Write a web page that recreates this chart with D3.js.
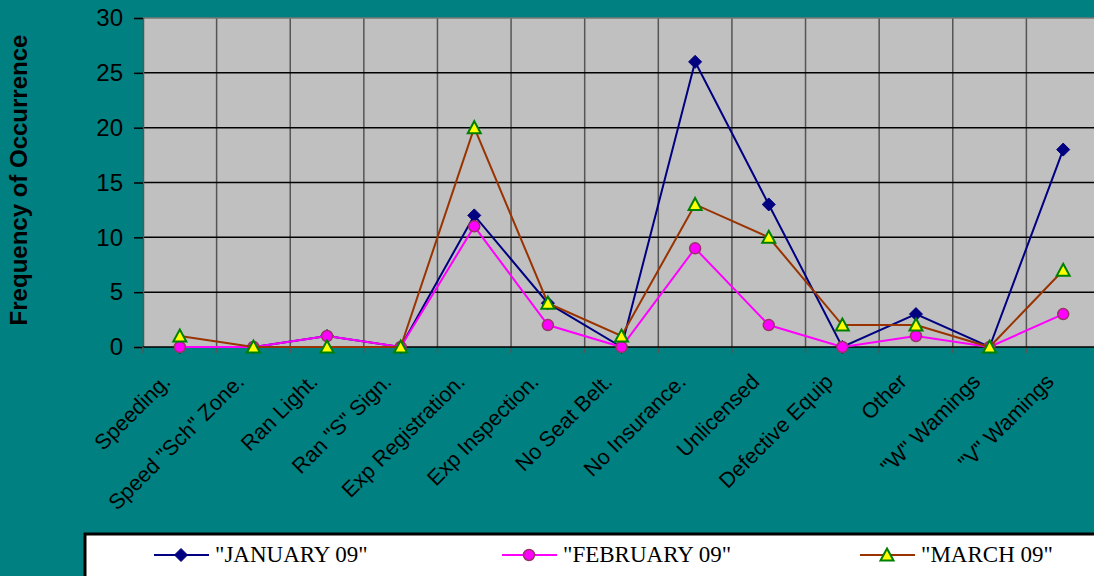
<!DOCTYPE html>
<html>
<head>
<meta charset="utf-8">
<script src="https://cdn.jsdelivr.net/npm/d3@7"></script>
<style>
  body { margin: 0; background: #008080; }
  svg { display: block; }
</style>
</head>
<body>
<div id="chart"></div>
<script>
// violation categories and monthly counts
const categories = ["Speeding.", "Speed \"Sch\" Zone.", "Ran Light.", "Ran \"S\" Sign.",
  "Exp Registration.", "Exp Inspection.", "No Seat Belt.", "No Insurance.", "Unlicensed",
  "Defective Equip", "Other", "\"W\" Wamings", "\"V\" Wamings"]
const january = [0, 0, 1, 0, 12, 4, 0, 26, 13, 0, 3, 0, 18]
const february = [0, 0, 1, 0, 11, 2, 0, 9, 2, 0, 1, 0, 3]
const march = [1, 0, 0, 0, 20, 4, 1, 13, 10, 2, 2, 0, 7]
const yTicks = [0, 5, 10, 15, 20, 25, 30]

const series = [
  {name: "\"JANUARY 09\"", values: january, color: "#000080", marker: "diamond"},
  {name: "\"FEBRUARY 09\"", values: february, color: "#ff00ff", marker: "circle"},
  {name: "\"MARCH 09\"", values: march, color: "#993300", marker: "triangle"}
]

const width = 1094, height = 576
const plot = {left: 143, right: 1100, top: 18, bottom: 347}

const svg = d3.select("#chart").append("svg")
  .attr("width", width)
  .attr("height", height)

svg.append("rect")
  .attr("width", width)
  .attr("height", height)
  .attr("fill", "#008080")

const x = d3.scaleBand()
  .domain(categories)
  .range([plot.left, plot.right])
  .paddingInner(0)
  .paddingOuter(0)

const y = d3.scaleLinear()
  .domain([0, 30])
  .range([plot.bottom, plot.top])

const cx = d => x(d) + x.bandwidth() / 2

// plot area
svg.append("rect")
  .attr("x", plot.left)
  .attr("y", plot.top)
  .attr("width", plot.right - plot.left)
  .attr("height", plot.bottom - plot.top)
  .attr("fill", "#c0c0c0")

// vertical grid lines at category boundaries
svg.append("g")
  .selectAll("line")
  .data(categories.slice(1))
  .enter().append("line")
  .attr("x1", d => x(d))
  .attr("x2", d => x(d))
  .attr("y1", plot.top)
  .attr("y2", plot.bottom + 6)
  .attr("stroke", "#555")
  .attr("stroke-width", 1.5)

// horizontal grid lines
svg.append("g")
  .selectAll("line")
  .data(yTicks.slice(1, -1))
  .enter().append("line")
  .attr("x1", plot.left)
  .attr("x2", plot.right)
  .attr("y1", d => y(d))
  .attr("y2", d => y(d))
  .attr("stroke", "#000")
  .attr("stroke-width", 1.5)

// top border
svg.append("line")
  .attr("x1", plot.left).attr("x2", plot.right)
  .attr("y1", plot.top).attr("y2", plot.top)
  .attr("stroke", "#777").attr("stroke-width", 1.5)

// y axis
const yAxis = d3.axisLeft(y)
  .tickValues(yTicks)
  .tickSize(9)
  .tickPadding(11)

const yg = svg.append("g")
  .attr("transform", "translate(" + plot.left + ",0)")
  .call(yAxis)
yg.select(".domain").attr("stroke", "#555").attr("stroke-width", 1.5)
yg.selectAll(".tick line").attr("stroke", "#000").attr("stroke-width", 1.5)
yg.selectAll(".tick text")
  .style("font-family", "Arial, 'Liberation Sans', sans-serif")
  .style("font-size", "24px")
  .attr("fill", "#000")

// x axis line and ticks
svg.append("line")
  .attr("x1", plot.left).attr("x2", plot.right)
  .attr("y1", plot.bottom).attr("y2", plot.bottom)
  .attr("stroke", "#000").attr("stroke-width", 1.5)

svg.append("line")
  .attr("x1", plot.left).attr("x2", plot.left)
  .attr("y1", plot.bottom).attr("y2", plot.bottom + 6)
  .attr("stroke", "#555").attr("stroke-width", 1.5)

// category labels
svg.append("g")
  .selectAll("text")
  .data(categories)
  .enter().append("text")
  .attr("transform", d => "translate(" + (cx(d) - 8) + "," + 383 + ") rotate(-45)")
  .attr("text-anchor", "end")
  .style("font-family", "Arial, 'Liberation Sans', sans-serif")
  .style("font-size", "21.5px")
  .attr("fill", "#000")
  .text(d => d)

// y axis title
svg.append("text")
  .attr("transform", "translate(27,180) rotate(-90)")
  .attr("text-anchor", "middle")
  .style("font-family", "Arial, 'Liberation Sans', sans-serif")
  .style("font-size", "24px")
  .style("font-weight", "bold")
  .attr("fill", "#000")
  .text("Frequency of Occurrence")

function drawMarker(g, type, color) {
  if (type === "diamond") {
    g.append("path")
      .attr("d", "M0,-6.5L6.5,0L0,6.5L-6.5,0Z")
      .attr("fill", color)
      .attr("stroke", color)
  } else if (type === "circle") {
    g.append("circle")
      .attr("r", 5.5)
      .attr("fill", "#ff00ff")
      .attr("stroke", "#993366")
      .attr("stroke-width", 1.5)
  } else {
    g.append("path")
      .attr("d", "M0,-6.5L6.5,5.5L-6.5,5.5Z")
      .attr("fill", "#ffff00")
      .attr("stroke", "#008000")
      .attr("stroke-width", 2)
  }
}

const line = d3.line()
  .x((d, i) => cx(categories[i]))
  .y(d => y(d))

series.forEach(function (s) {
  const g = svg.append("g")
  g.append("path")
    .datum(s.values)
    .attr("d", line)
    .attr("fill", "none")
    .attr("stroke", s.color)
    .attr("stroke-width", 2)

  s.values.forEach(function (v, i) {
    const m = g.append("g")
      .attr("transform", "translate(" + cx(categories[i]) + "," + y(v) + ")")
    drawMarker(m, s.marker, s.color)
  })
})

// legend
svg.append("rect")
  .attr("x", 85)
  .attr("y", 534)
  .attr("width", 1020)
  .attr("height", 60)
  .attr("fill", "#fff")
  .attr("stroke", "#000")
  .attr("stroke-width", 3)

const legendX = [154, 502, 860]
const legend = svg.selectAll(".legends")
  .data(series)
  .enter().append("g")
  .attr("class", "legends")
  .attr("transform", (d, i) => "translate(" + legendX[i] + ",555)")

legend.append("line")
  .attr("x1", 0).attr("x2", 55)
  .attr("y1", 0).attr("y2", 0)
  .attr("stroke", d => d.color)
  .attr("stroke-width", 2)

legend.each(function (d) {
  const m = d3.select(this).append("g").attr("transform", "translate(27,0)")
  drawMarker(m, d.marker, d.color)
})

legend.append("text")
  .attr("x", 61)
  .attr("y", 7)
  .style("font-family", "'Liberation Serif', 'Times New Roman', serif")
  .style("font-size", "23px")
  .attr("fill", "#000")
  .text(d => d.name)
</script>
</body>
</html>
